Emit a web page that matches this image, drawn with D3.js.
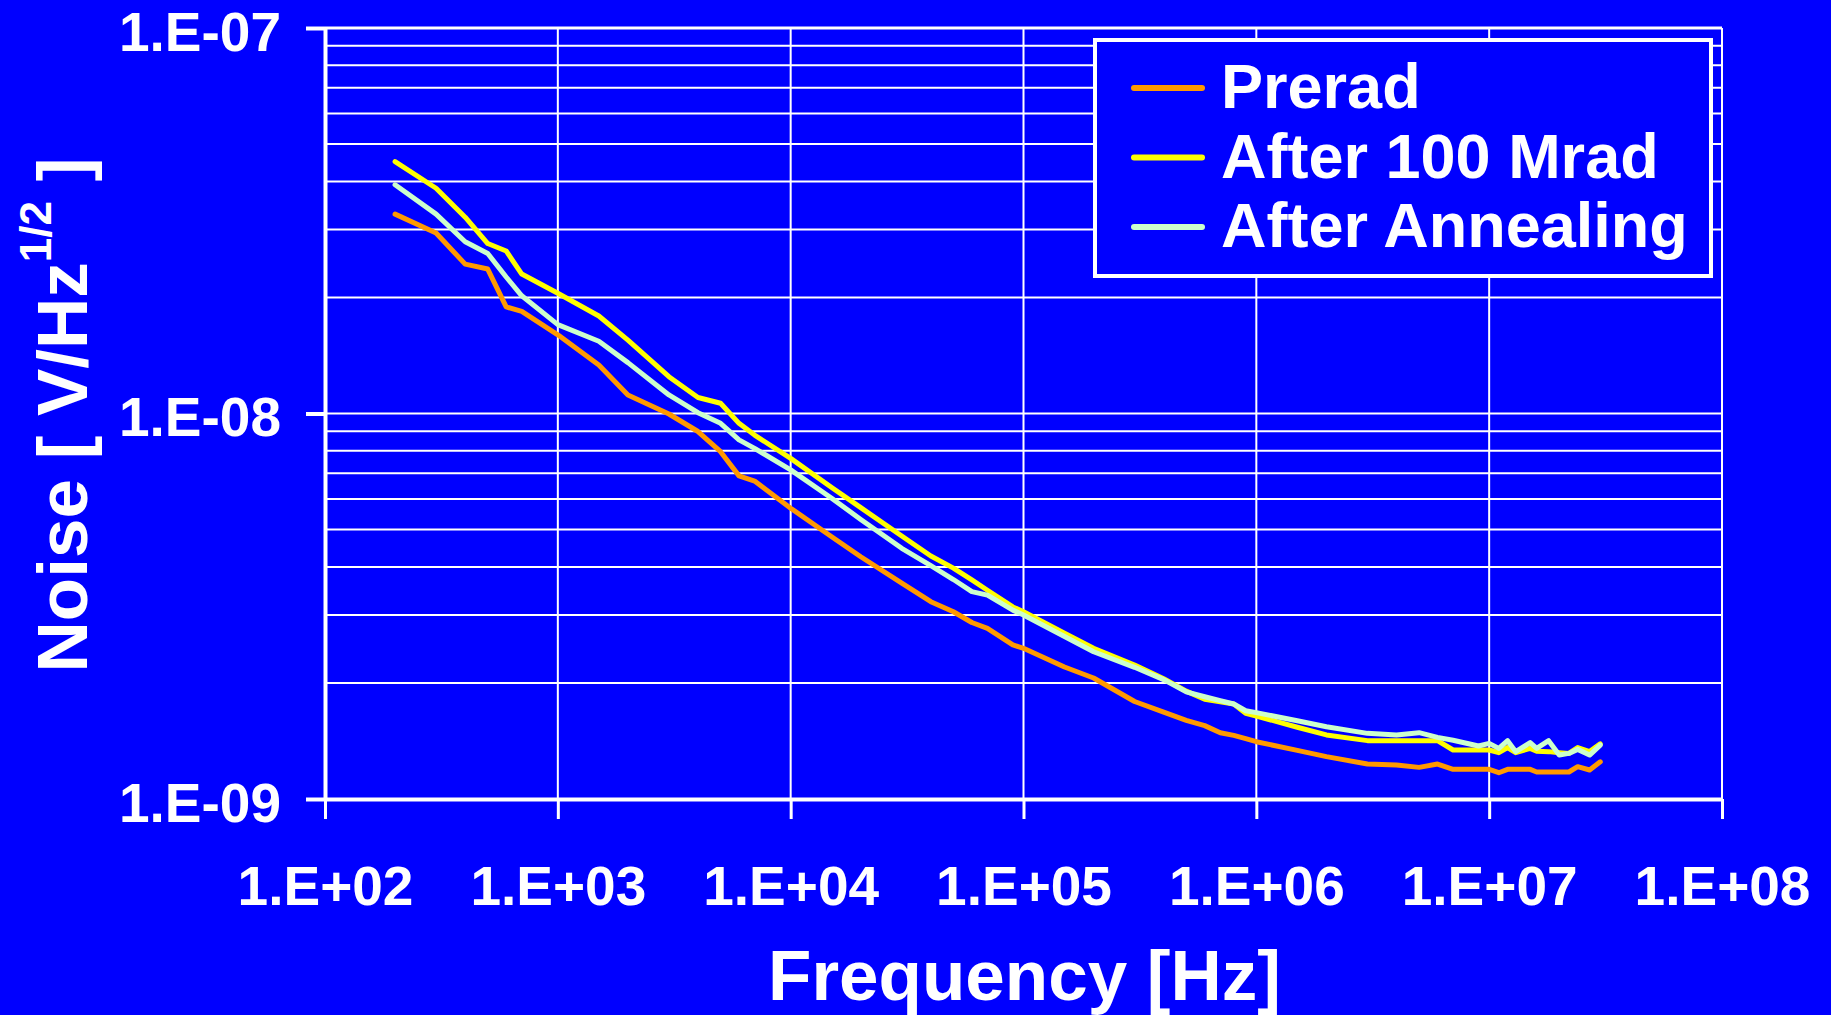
<!DOCTYPE html>
<html>
<head>
<meta charset="utf-8">
<script src="https://cdn.jsdelivr.net/npm/d3@7"></script>
<style>
  html, body { margin: 0; padding: 0; background: #0000FF; }
  svg { display: block; }
  text { font-family: "Liberation Sans", Arial, sans-serif; font-weight: bold; fill: #FFFFFF; }
</style>
</head>
<body>
<svg id="chart" width="1831" height="1015"></svg>
<script>
// ---- Data ----
const freq = [200, 300, 400, 500, 600, 700, 1000, 1500, 2000, 3000, 4000, 5000, 6000, 7000,
  1e4, 1.5e4, 2e4, 3e4, 4e4, 5e4, 6e4, 7e4, 9e4, 1e5, 1.5e5, 2e5, 3e5, 4e5, 5e5, 6e5, 7e5, 8e5, 9e5,
  1e6, 1.5e6, 2e6, 3e6, 4e6, 5e6, 6e6, 7e6, 9e6,
  1e7, 1.1e7, 1.2e7, 1.3e7, 1.5e7, 1.6e7, 1.8e7, 2.0e7, 2.2e7, 2.4e7, 2.7e7, 3.0e7];

const preread = [3.29e-8, 2.94e-8, 2.44e-8, 2.37e-8, 1.89e-8, 1.84e-8, 1.60e-8, 1.336e-8, 1.117e-8, 9.97e-9, 8.98e-9, 7.96e-9, 6.89e-9, 6.68e-9,
  5.68e-9, 4.79e-9, 4.25e-9, 3.63e-9, 3.25e-9, 3.06e-9, 2.87e-9, 2.77e-9, 2.51e-9, 2.46e-9, 2.20e-9, 2.06e-9, 1.79e-9, 1.68e-9, 1.60e-9, 1.55e-9, 1.486e-9, 1.462e-9, 1.434e-9,
  1.408e-9, 1.337e-9, 1.288e-9, 1.233e-9, 1.225e-9, 1.208e-9, 1.232e-9, 1.194e-9, 1.194e-9,
  1.194e-9, 1.170e-9, 1.194e-9, 1.194e-9, 1.194e-9, 1.175e-9, 1.175e-9, 1.175e-9, 1.175e-9, 1.213e-9, 1.189e-9, 1.249e-9];

const after100Mrad = [4.50e-8, 3.84e-8, 3.23e-8, 2.76e-8, 2.64e-8, 2.30e-8, 2.05e-8, 1.79e-8, 1.55e-8, 1.246e-8, 1.10e-8, 1.063e-8, 9.43e-9, 8.79e-9,
  7.65e-9, 6.43e-9, 5.70e-9, 4.81e-9, 4.27e-9, 3.97e-9, 3.70e-9, 3.48e-9, 3.15e-9, 3.06e-9, 2.69e-9, 2.46e-9, 2.226e-9, 2.05e-9, 1.905e-9, 1.814e-9, 1.786e-9, 1.764e-9, 1.669e-9,
  1.642e-9, 1.535e-9, 1.466e-9, 1.417e-9, 1.417e-9, 1.417e-9, 1.417e-9, 1.34e-9, 1.34e-9,
  1.34e-9, 1.319e-9, 1.36e-9, 1.319e-9, 1.353e-9, 1.33e-9, 1.327e-9, 1.319e-9, 1.313e-9, 1.36e-9, 1.327e-9, 1.39e-9];

const afterAnnealing = [3.92e-8, 3.29e-8, 2.79e-8, 2.60e-8, 2.26e-8, 2.02e-8, 1.70e-8, 1.54e-8, 1.355e-8, 1.117e-8, 1.005e-8, 9.43e-9, 8.54e-9, 8.12e-9,
  7.14e-9, 6.03e-9, 5.31e-9, 4.47e-9, 4.03e-9, 3.71e-9, 3.45e-9, 3.38e-9, 3.09e-9, 3.00e-9, 2.64e-9, 2.41e-9, 2.196e-9, 2.04e-9, 1.897e-9, 1.842e-9, 1.80e-9, 1.764e-9, 1.694e-9,
  1.675e-9, 1.596e-9, 1.54e-9, 1.48e-9, 1.466e-9, 1.486e-9, 1.445e-9, 1.42e-9, 1.372e-9,
  1.394e-9, 1.353e-9, 1.417e-9, 1.327e-9, 1.40e-9, 1.353e-9, 1.417e-9, 1.30e-9, 1.313e-9, 1.345e-9, 1.30e-9, 1.38e-9];

const seriesNames = ["Prerad", "After 100 Mrad", "After Annealing"];
const seriesColors = ["#FF9900", "#FFFF00", "#CCFFCC"];

const xTickValues = [1e2, 1e3, 1e4, 1e5, 1e6, 1e7, 1e8];
const xTickLabels = ["1.E+02", "1.E+03", "1.E+04", "1.E+05", "1.E+06", "1.E+07", "1.E+08"];
const yTickValues = [1e-9, 1e-8, 1e-7];
const yTickLabels = ["1.E-09", "1.E-08", "1.E-07"];

const xTitle = "Frequency [Hz]";

// ---- Layout ----
const svg = d3.select("#chart");
const L = 325, R = 1722, T = 28, B = 799;

const x = d3.scaleLog().domain([1e2, 1e8]).range([L, R]);
const y = d3.scaleLog().domain([1e-9, 1e-7]).range([B, T]);

// Gridlines
const hGrid = [];
[1e-9, 1e-8].forEach(d => { for (let k = 1; k <= 9; k++) hGrid.push(d * k); });
hGrid.push(1e-7);

svg.append("g").selectAll("line").data(hGrid).join("line")
  .attr("x1", L).attr("x2", R)
  .attr("y1", d => y(d)).attr("y2", d => y(d))
  .attr("stroke", "#FFFFFF").attr("stroke-width", (d, i) => (i === hGrid.length - 1 ? 3 : 2));

svg.append("g").selectAll("line").data(xTickValues).join("line")
  .attr("x1", d => x(d)).attr("x2", d => x(d))
  .attr("y1", T).attr("y2", B)
  .attr("stroke", "#FFFFFF").attr("stroke-width", 2);

// Axes
const xAxis = d3.axisBottom(x).tickValues(xTickValues)
  .tickFormat((d, i) => xTickLabels[i]).tickSize(20).tickSizeOuter(0);
const gx = svg.append("g").attr("transform", `translate(0,${B})`).call(xAxis);
gx.select(".domain").attr("stroke", "#FFFFFF").attr("stroke-width", 4);
gx.selectAll(".tick line").attr("stroke", "#FFFFFF").attr("stroke-width", 3);
gx.selectAll(".tick text").attr("y", 106).attr("dy", null)
  .attr("font-size", 55).attr("fill", "#FFFFFF")
  .style("font-family", '"Liberation Sans", Arial, sans-serif').style("font-weight", "bold");

const yAxis = d3.axisLeft(y).tickValues(yTickValues)
  .tickFormat((d, i) => yTickLabels[i]).tickSize(19).tickSizeOuter(0);
const gy = svg.append("g").attr("transform", `translate(${L},0)`).call(yAxis);
gy.select(".domain").attr("stroke", "#FFFFFF").attr("stroke-width", 4);
gy.selectAll(".tick line").attr("stroke", "#FFFFFF").attr("stroke-width", 4);
gy.selectAll(".tick text").attr("x", -44).attr("dy", null).attr("y", 22)
  .attr("font-size", 55).attr("fill", "#FFFFFF")
  .style("font-family", '"Liberation Sans", Arial, sans-serif').style("font-weight", "bold");

// Lines
const seriesValues = [preread, after100Mrad, afterAnnealing];
const line = d3.line().x(d => x(d[0])).y(d => y(d[1]));
seriesValues.forEach((vals, i) => {
  const pts = freq.map((f, j) => [f, vals[j]]);
  svg.append("path").datum(pts)
    .attr("d", line)
    .attr("fill", "none")
    .attr("stroke", seriesColors[i])
    .attr("stroke-width", 5)
    .attr("stroke-linejoin", "round")
    .attr("stroke-linecap", "round");
});

// Axis titles
svg.append("text").attr("x", (L + R) / 2 + 1).attr("y", 1000)
  .attr("text-anchor", "middle").attr("font-size", 71).text(xTitle);

const yt = svg.append("text")
  .attr("transform", "translate(87,415) rotate(-90)")
  .attr("text-anchor", "middle").attr("font-size", 71);
yt.append("tspan").text("Noise [ V/Hz");
yt.append("tspan").attr("font-size", 44).attr("dy", -36).text("1/2");
yt.append("tspan").attr("dy", 36).text(" ]");

// Legend
const lg = svg.append("g");
lg.append("rect").attr("x", 1095).attr("y", 40).attr("width", 616).attr("height", 236)
  .attr("fill", "#0000FF").attr("stroke", "#FFFFFF").attr("stroke-width", 4);
const legendY = [88, 157.5, 227];
seriesNames.forEach((name, i) => {
  lg.append("line").attr("x1", 1134).attr("x2", 1202)
    .attr("y1", legendY[i]).attr("y2", legendY[i])
    .attr("stroke", seriesColors[i]).attr("stroke-width", 6).attr("stroke-linecap", "round");
  lg.append("text").attr("x", 1221).attr("y", legendY[i] + 20)
    .attr("font-size", 63).text(name);
});
</script>
</body>
</html>
